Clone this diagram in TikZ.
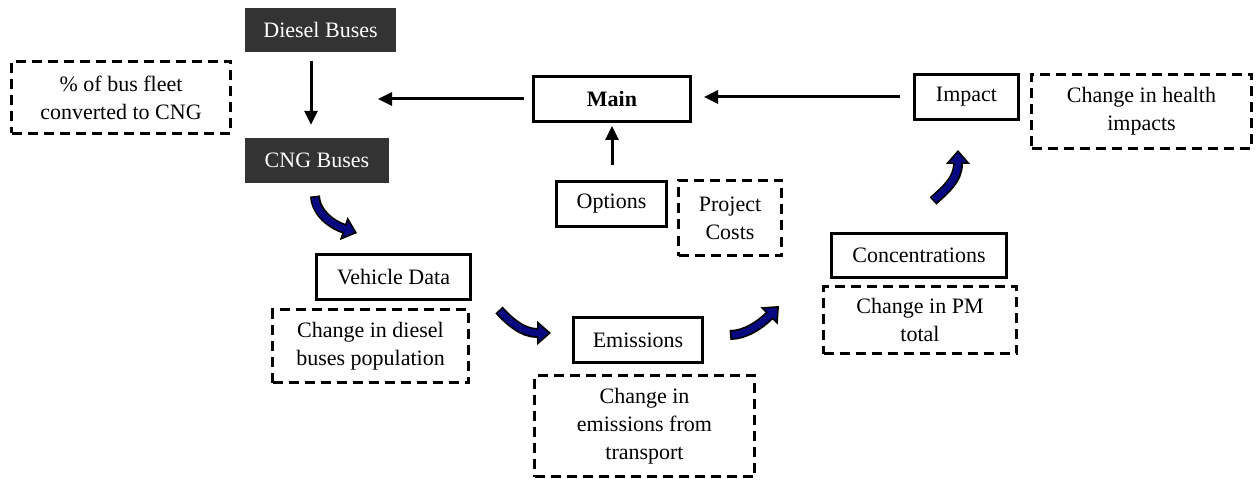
\documentclass[tikz,border=0pt]{standalone}
\usepackage{fontspec}
\setmainfont{Liberation Serif}
\usetikzlibrary{arrows.meta}
\definecolor{boxdark}{RGB}{51,51,51}
\definecolor{flow}{RGB}{8,8,128}

% curved blue flow arrow: black rim, navy body
\newcommand\flowarrow[4]{%
  \draw[line width=10pt, black,
        -{Triangle[length=14pt 0 0, width=24pt 0 0, fill=flow, line width=1.6pt]}]
    #1 .. controls #2 and #3 .. #4;
  \draw[line width=6.6pt, flow, shorten >=12pt, shorten <=1.6pt]
    #1 .. controls #2 and #3 .. #4;}

\begin{document}
\begin{tikzpicture}[x=1pt, y=-1pt,
  every node/.style={font=\fontsize{22}{28}\selectfont, inner sep=0pt, align=center},
  dark/.style={rectangle, fill=boxdark, text=white},
  solidbox/.style={rectangle, draw=black, line width=3pt},
  notebox/.style={rectangle, draw=black, line width=3pt, dash pattern=on 10pt off 6pt},
  link/.style={draw=black, line width=3pt, -{Triangle[length=14pt 0 0, width=13pt 0 0]}}]

\useasboundingbox[fill=white] (0,0) rectangle (1258,481);

% fleet conversion
\node[dark, minimum width=151pt, minimum height=44pt] (diesel) at (320.5,30) {Diesel Buses};
\node[dark, minimum width=144pt, minimum height=45pt] (cng) at (317,160.5) {CNG Buses};
\node[notebox, minimum width=219pt, minimum height=72pt] (fleet) at (121,97.5)
  {\% of bus fleet\\converted to CNG};

% model core
\node[solidbox, minimum width=157pt, minimum height=45pt] (main) at (612,99) {\textbf{Main}};
\node[solidbox, minimum width=110pt, minimum height=45pt] (options) at (611.5,204) {Options};
\node[notebox, minimum width=103pt, minimum height=75pt] (costs) at (730,218) {Project\\Costs};
\node[solidbox, minimum width=104pt, minimum height=45pt] (impact) at (966.5,97) {Impact};
\node[notebox, minimum width=220pt, minimum height=74pt] (health) at (1141.5,111.5)
  {Change in health\\impacts};

% processing chain
\node[solidbox, minimum width=154pt, minimum height=45pt] (vehicle) at (393.5,277) {Vehicle Data};
\node[notebox, minimum width=196pt, minimum height=73pt] (population) at (370.5,346)
  {Change in diesel\\buses population};
\node[solidbox, minimum width=129pt, minimum height=45pt] (emissions) at (638,340) {Emissions};
\node[notebox, minimum width=220pt, minimum height=101pt] (transport) at (644.5,426)
  {Change in\\emissions from\\transport};
\node[solidbox, minimum width=175pt, minimum height=44pt] (conc) at (919,255.5) {Concentrations};
\node[notebox, minimum width=193pt, minimum height=67pt] (pm) at (920,320)
  {Change in PM\\total};

% straight links
\coordinate (mainout) at (378,99);
\draw[link, shorten <=9pt, shorten >=13pt] ([xshift=-9.5pt]diesel.south) -- ([xshift=-6pt]cng.north);
\draw[link, shorten <=8pt] (main.west) -- (mainout);
\draw[link, shorten <=13pt, shorten >=12pt] (impact.west) -- (impact.west -| main.east);
\draw[link, shorten <=15pt, shorten >=3pt] ([xshift=0.5pt]options.north) -- (main.south);

% curved flow arrows between stages
\coordinate (f1s) at (315,196);  \coordinate (f1e) at (357,233);
\coordinate (f2s) at (499,310);  \coordinate (f2e) at (551,333);
\coordinate (f3s) at (730,335);  \coordinate (f3e) at (779,306);
\coordinate (f4s) at (933,201);  \coordinate (f4e) at (958,150);
\flowarrow{(f1s)}{(316,214)}{(333,225)}{(f1e)}
\flowarrow{(f2s)}{(509,321)}{(522,333)}{(f2e)}
\flowarrow{(f3s)}{(745,335)}{(760,325)}{(f3e)}
\flowarrow{(f4s)}{(945,190)}{(958,180)}{(f4e)}
\end{tikzpicture}
\end{document}
